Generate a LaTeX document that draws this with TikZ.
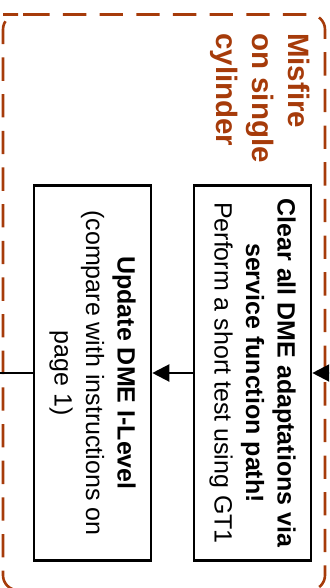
\documentclass[tikz,border=0pt]{standalone}
\usepackage{fontspec}
\setmainfont{Liberation Sans}
\usetikzlibrary{arrows.meta}
\definecolor{rust}{RGB}{166,59,10}
\begin{document}
\begin{tikzpicture}[x=1pt,y=-1pt,
  stepbox/.style={draw, line width=2.6pt, rotate=-90, minimum width=375pt,
    minimum height=117pt, inner sep=0pt, align=center,
    font=\fontsize{25}{31.5}\selectfont},
  flow/.style={line width=2.2pt, -{Triangle[length=17pt,width=17pt]}},
  plain/.style={line width=2.2pt},
  frame/.style={draw=rust, line width=2.6pt, dash pattern=on 23.33pt off 13.33pt,
    dash phase=6.67pt, rounded corners=15pt},
  group title/.style={rotate=-90, inner sep=0pt, align=left, text=rust,
    font=\fontsize{29.5}{36}\selectfont\bfseries},
]
\clip (0,0) rectangle (329,588);

% dashed group frame, traced clockwise from the top-left corner
\draw[frame] (18,14.5) -- (325,14.5) -- (325,590.2) -- (3,590.2) -- (3,14.5) -- cycle;
\node[group title, anchor=north west] (ttl) at (310.5,33) {Misfire\\on single\\cylinder};

% process steps
\node[stepbox] (clear) at (252.5,373)
  {\textbf{Clear all DME adaptations via}\\\textbf{service function path!}\\Perform a short test using GT1};
\node[stepbox] (update) at (92.5,373)
  {\textbf{Update DME I-Level}\\(compare with instructions on\\page 1)};

% connectors
\coordinate (in) at (329,373);
\coordinate (out) at (0,373);
\draw[flow] (in) -- (clear.north);
\draw[flow] (clear.south) -- (update.north);
\draw[plain] (update.south) -- (out);
\end{tikzpicture}
\end{document}
